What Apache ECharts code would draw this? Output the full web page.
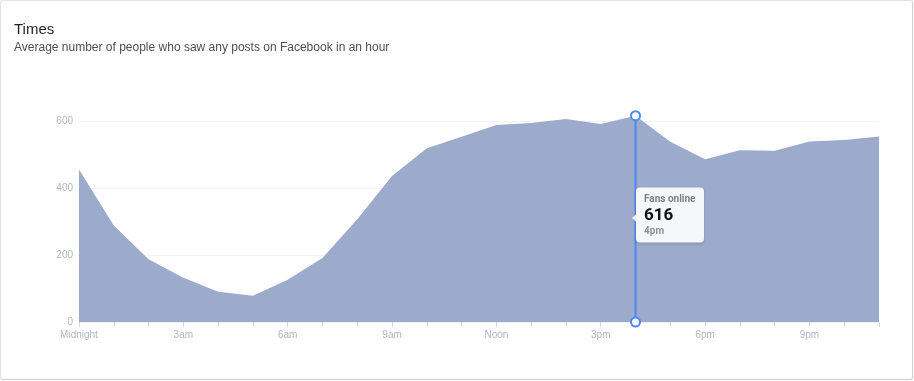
<!DOCTYPE html>
<html>
<head>
<meta charset="utf-8">
<script src="https://cdn.jsdelivr.net/npm/echarts@6/dist/echarts.min.js"></script>
<style>
html,body{margin:0;padding:0;background:#fff;}
#card{position:absolute;left:0;top:0;width:911px;height:378px;border:1px solid #e3e3e3;border-right-color:#d0d0d0;border-bottom-color:#cfcfcf;border-radius:3px;}
#main{position:absolute;left:0;top:0;width:914px;height:381px;}
</style>
</head>
<body>
<div id="card"></div>
<div id="main"></div>
<script>
const hours = ['Midnight','1am','2am','3am','4am','5am','6am','7am','8am','9am','10am','11am',
  'Noon','1pm','2pm','3pm','4pm','5pm','6pm','7pm','8pm','9pm','10pm','11pm'];
const fansOnline = [455, 288, 187, 132, 90, 78, 126, 191, 307, 436, 519, 553,
  588, 594, 606, 591, 616, 538, 486, 513, 511, 539, 543, 554];
const highlightIndex = 16;
const tooltipTitle = 'Fans online';

const hv = fansOnline[highlightIndex];

const chart = echarts.init(document.getElementById('main'));
chart.setOption({
  animation: false,
  title: {
    text: 'Times',
    subtext: 'Average number of people who saw any posts on Facebook in an hour',
    left: 9, top: 17, itemGap: 5,
    textStyle: {fontFamily: 'Liberation Sans', fontSize: 15, fontWeight: 'normal', color: '#1d2129'},
    subtextStyle: {fontFamily: 'Liberation Sans', fontSize: 12, color: '#4b4f56'}
  },
  grid: {left: 79, right: 35, top: 121, bottom: 59},
  xAxis: {
    type: 'category',
    data: hours,
    boundaryGap: false,
    axisLine: {show: false},
    axisTick: {show: true, interval: 0, length: 5, lineStyle: {color: '#d5d7dc'}},
    axisLabel: {interval: 2, color: '#b1b5c0', fontSize: 10, fontFamily: 'Liberation Sans', margin: 8},
    splitLine: {show: false}
  },
  yAxis: {
    type: 'value',
    min: 0, max: 600, interval: 200,
    z: 3,
    axisLine: {show: false},
    axisTick: {show: false},
    axisLabel: {color: '#b1b5c0', fontSize: 10, fontFamily: 'Liberation Sans', margin: 6},
    splitLine: {lineStyle: {color: 'rgba(0,0,0,0.055)', width: 1}}
  },
  series: [{
    type: 'line',
    data: fansOnline,
    clip: false,
    showSymbol: false,
    silent: true,
    lineStyle: {width: 0, color: '#9caacb'},
    itemStyle: {color: '#9caacb'},
    areaStyle: {color: '#9caacb', opacity: 1},
    emphasis: {disabled: true}
  }, {
    type: 'line',
    data: [[highlightIndex, 0], [highlightIndex, hv]],
    clip: false,
    z: 5,
    silent: true,
    symbol: 'emptyCircle',
    symbolSize: 9,
    showSymbol: true,
    lineStyle: {width: 2, color: '#4d88f5'},
    itemStyle: {color: '#4d88f5', borderWidth: 2},
    emphasis: {disabled: true}
  }, {
    type: 'scatter',
    data: [[highlightIndex, 0]],
    clip: false,
    z: 6,
    silent: true,
    symbol: 'triangle',
    symbolSize: [9, 5],
    symbolRotate: 90,
    symbolOffset: [-1, -104],
    itemStyle: {color: '#f6f7fa', opacity: 1},
    label: {
      show: true,
      opacity: 1,
      position: [4, -26],
      formatter: function () {
        return '{t|' + tooltipTitle + '}\n{v|' + hv + '}\n{h|' + hours[highlightIndex] + '}';
      },
      backgroundColor: '#f6f7fa',
      borderRadius: 4,
      padding: [5, 8, 4, 8],
      width: 52,
      shadowBlur: 3,
      shadowOffsetY: 1,
      shadowColor: 'rgba(0,0,0,0.18)',
      rich: {
        t: {fontFamily: 'Roboto', fontSize: 10, fontWeight: 'bold', color: '#7b7f87', lineHeight: 14},
        v: {fontFamily: 'Roboto', fontSize: 17, fontWeight: 'bold', color: '#111111', lineHeight: 18},
        h: {fontFamily: 'Roboto', fontSize: 10, fontWeight: 'bold', color: '#8d9099', lineHeight: 14}
      }
    },
    emphasis: {disabled: true}
  }]
});
</script>
</body>
</html>
